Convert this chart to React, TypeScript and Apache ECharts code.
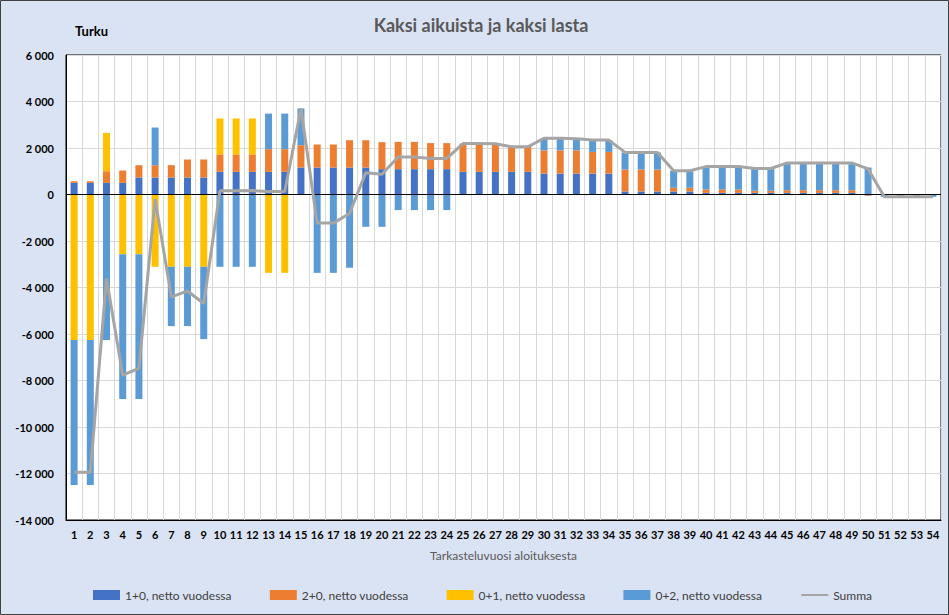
import React, { useEffect, useRef } from "react";
import * as echarts from "echarts";

const categories = [
  "1","2","3","4","5","6","7","8","9","10","11","12","13","14","15","16","17","18",
  "19","20","21","22","23","24","25","26","27","28","29","30","31","32","33","34","35","36",
  "37","38","39","40","41","42","43","44","45","46","47","48","49","50","51","52","53","54",
];

const seriesNames = [
  "1+0, netto vuodessa",
  "2+0, netto vuodessa",
  "0+1, netto vuodessa",
  "0+2, netto vuodessa",
  "Summa",
];

const s10 = [
  500, 500, 500, 500, 730, 730, 730, 730, 730, 975, 975, 975, 975, 975, 1160, 1160, 1160, 1160,
  1160, 1090, 1090, 1090, 1090, 1090, 975, 975, 975, 975, 975, 900, 900, 900, 900, 900, 130, 130,
  130, 130, 130, 70, 70, 70, 70, 70, 70, 70, 70, 70, 70, -40, 0, 0, 0, 0,
];

const s20 = [
  70, 70, 500, 530, 530, 530, 530, 775, 775, 745, 745, 745, 975, 975, 960, 990, 990, 1175,
  1175, 1160, 1175, 1175, 1120, 1120, 1215, 1215, 1205, 1075, 1075, 1000, 1000, 1000, 930, 930, 945, 945,
  945, 160, 160, 145, 145, 145, 90, 90, 115, 115, 115, 115, 115, -20, 0, 0, 0, 0,
];

const s01 = [
  -6260, -6260, 1650, -2565, -2565, -3110, -3110, -3110, -3110, 1550, 1550, 1550, -3370, -3370, 0, 0, 0, 0,
  0, 0, 0, 0, 0, 0, 0, 0, 0, 0, 0, 0, 0, 0, 0, 0, 0, 0,
  0, 0, 0, 0, 0, 0, 0, 0, 0, 0, 0, 0, 0, 0, 0, 0, 0, 0,
];

const s02 = [
  -6230, -6230, -6260, -6235, -6235, 1620, -2550, -2550, -3110, -3110, -3110, -3110, 1530, 1530, 1580, -3370, -3370, -3150,
  -1390, -1390, -670, -670, -670, -670, 0, 0, 0, 0, 0, 500, 500, 500, 500, 500, 730, 730,
  730, 730, 730, 990, 990, 990, 960, 960, 1175, 1175, 1175, 1175, 1175, 1160, -100, -100, -100, -100,
];

const summa = [
  -11950, -11950, -3610, -7770, -7480, -200, -4400, -4150, -4690, 160, 160, 170, 130, 130, 3700, -1230, -1230, -815,
  940, 870, 1610, 1610, 1550, 1550, 2190, 2190, 2180, 2050, 2050, 2420, 2420, 2400, 2340, 2340, 1810, 1810,
  1810, 1020, 1020, 1200, 1200, 1200, 1120, 1120, 1360, 1360, 1360, 1360, 1360, 1100, -100, -100, -100, -100,
];

const colors = ["#4472C4", "#ED7D31", "#FFC000", "#5B9BD5", "#A5A5A5"];

const fmt = (v: number) => {
  const s = Math.abs(v).toString().replace(/\B(?=(\d{3})+(?!\d))/g, " ");
  return (v < 0 ? "-" : "") + s;
};

export default function App() {
  const ref = useRef<HTMLDivElement>(null);
  useEffect(() => {
    const chart = echarts.init(ref.current!, null, { renderer: "svg" });
    const font = "Lato, 'Liberation Sans', sans-serif";
    const barData = [s10, s20, s01, s02];
    chart.setOption({
      animation: false,
      backgroundColor: "#DAE3F3",
      textStyle: { fontFamily: font },
      grid: {
        left: 66,
        right: 8,
        top: 55,
        bottom: 95,
        show: true,
        backgroundColor: "#ffffff",
        borderColor: "#000000",
        borderWidth: 1,
      },
      legend: {
        data: seriesNames.map((n, i) =>
          i < 4 ? { name: n, icon: "rect" } : { name: n, itemStyle: { opacity: 0 } }
        ),
        left: 88,
        top: 584,
        itemWidth: 27,
        itemHeight: 10,
        itemGap: 38,
        textStyle: { fontSize: 12, color: "#404040", fontFamily: font },
      },
      xAxis: {
        type: "category",
        data: categories,
        axisLine: { onZero: false, lineStyle: { color: "#000000" } },
        axisTick: { show: false },
        axisLabel: { interval: 0, fontWeight: "bold", fontSize: 11, color: "#000000", margin: 9, fontFamily: font },
        splitLine: { show: true, interval: 0, lineStyle: { color: "#D9D9D9" } },
        name: "Tarkasteluvuosi aloituksesta",
        nameLocation: "middle",
        nameGap: 29,
        nameTextStyle: { color: "#595959", fontSize: 12, fontFamily: font },
      },
      yAxis: {
        type: "value",
        min: -14000,
        max: 6000,
        interval: 2000,
        axisLine: { show: true, lineStyle: { color: "#000000" } },
        axisTick: { show: false },
        axisLabel: { formatter: fmt, fontWeight: "bold", fontSize: 11, color: "#000000", margin: 12, fontFamily: font },
        splitLine: { lineStyle: { color: "#D9D9D9" } },
      },
      series: [
        ...barData.map((d, i) => ({
          name: seriesNames[i],
          type: "bar",
          stack: "total",
          barWidth: 7,
          data: d,
          itemStyle: { color: colors[i] },
        })),
        {
          name: seriesNames[4],
          type: "line",
          data: summa,
          symbol: "none",
          z: 5,
          lineStyle: { width: 3, color: colors[4] },
          itemStyle: { color: colors[4] },
          markLine: {
            silent: true,
            symbol: "none",
            label: { show: false },
            lineStyle: { color: "#000000", width: 1, type: "solid" },
            data: [{ yAxis: 0 }],
          },
        },
      ],
      graphic: [
        {
          type: "rect",
          shape: { x: 0.5, y: 0.5, width: 948, height: 614 },
          style: { fill: "none", stroke: "#404040", lineWidth: 1 },
          silent: true,
        },
        {
          type: "text",
          x: 481,
          y: 25,
          style: {
            text: "Kaksi aikuista ja kaksi lasta",
            fontSize: 18,
            fontWeight: "bold",
            fill: "#595959",
            fontFamily: font,
            textAlign: "center",
            textVerticalAlign: "middle",
          },
        },
        {
          type: "text",
          x: 75,
          y: 31,
          style: {
            text: "Turku",
            fontSize: 13,
            fontWeight: "bold",
            fill: "#000000",
            fontFamily: font,
            textAlign: "left",
            textVerticalAlign: "middle",
          },
        },
      ],
    });
    return () => chart.dispose();
  }, []);
  return <div ref={ref} style={{ position: "absolute", left: 0, top: 0, width: 949, height: 615 }} />;
}
